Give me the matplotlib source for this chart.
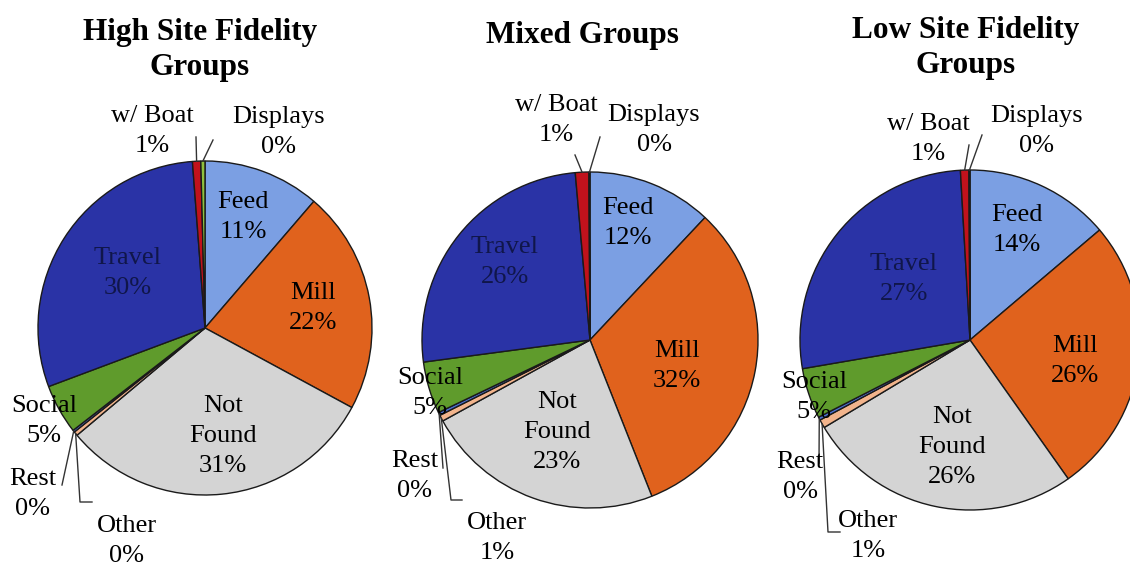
import numpy as np
import matplotlib.pyplot as plt

plt.rcParams['font.family'] = ['Liberation Serif', 'DejaVu Serif']

# activity budgets (%) per group type, clockwise from 12 o'clock
categories = ['Feed', 'Mill', 'Not Found', 'Other', 'Rest', 'Social', 'Travel', 'w/ Boat', 'Displays']
high_fidelity = [11.3, 21.6, 31.0, 0.4, 0.2, 4.8, 29.5, 0.8, 0.4]
mixed = [12.0, 32.0, 23.0, 0.6, 0.3, 5.0, 25.7, 1.3, 0.1]
low_fidelity = [13.8, 26.4, 26.2, 0.8, 0.3, 4.8, 26.8, 0.8, 0.1]
titles = ['High Site Fidelity\nGroups', 'Mixed Groups', 'Low Site Fidelity\nGroups']

colors = ['#7b9fe3', '#e0621d', '#d4d4d4', '#f2b48c', '#4a6fd2',
          '#5f9b2c', '#2a33a6', '#c1121c', '#8fc13e']

W, H = 1130, 565
fig = plt.figure(figsize=(W / 100, H / 100), dpi=100)
ax = fig.add_axes([0, 0, 1, 1])


def P(x, y):
    # image-style coordinates (y down) -> axes coordinates
    return x, H - y


# layout of each pie: centre, radius, title pos, inside label pos, outside label pos, leader ends
layouts = [
    dict(c=(205, 328), r=167, title=(200, 50),
         inside={'Feed': (243, 217), 'Mill': (313, 308), 'Not Found': (223, 436), 'Travel': (128, 273)},
         outside={'w/ Boat': (152, 131), 'Displays': (279, 132), 'Social': (44, 421),
                  'Rest': (33, 494), 'Other': (127, 541)},
         leads={'w/ Boat': [(196, 137)], 'Displays': [(213, 140)], 'Rest': [(62, 485)],
                'Other': [(80, 502), (92, 502)]}),
    dict(c=(590, 340), r=168, title=(582, 35),
         inside={'Feed': (628, 223), 'Mill': (677, 366), 'Not Found': (557, 432), 'Travel': (505, 262)},
         outside={'w/ Boat': (556, 120), 'Displays': (654, 130), 'Social': (430, 393),
                  'Rest': (415, 476), 'Other': (497, 538)},
         leads={'w/ Boat': [(575, 155)], 'Displays': [(600, 137)], 'Rest': [(443, 468)],
                'Other': [(451, 500), (462, 500)]}),
    dict(c=(970, 340), r=170, title=(966, 48),
         inside={'Feed': (1017, 230), 'Mill': (1075, 361), 'Not Found': (952, 447), 'Travel': (904, 279)},
         outside={'w/ Boat': (928, 139), 'Displays': (1037, 131), 'Social': (814, 397),
                  'Rest': (800, 477), 'Other': (868, 536)},
         leads={'w/ Boat': [(969, 145)], 'Displays': [(982, 135)], 'Rest': [(819, 463)],
                'Other': [(828, 532), (840, 532)]}),
]

fs = 19
for vals, title, lay in zip([high_fidelity, mixed, low_fidelity], titles, layouts):
    cx, cy = P(*lay['c'])
    r = lay['r']
    wedges, _ = ax.pie(vals, colors=colors, startangle=90, counterclock=False,
                       center=(cx, cy), radius=r, frame=True,
                       wedgeprops=dict(edgecolor='#1a1a1a', linewidth=1.0))
    pct = {k: v / sum(vals) * 100 for k, v in zip(categories, vals)}
    ax.text(*P(*lay['title']), title, ha='center', va='center', fontsize=22.5,
            fontweight='bold', linespacing=1.3)

    for name, (x, y) in lay['inside'].items():
        lbl = 'Not\nFound' if name == 'Not Found' else name
        tc = '#10164a' if name == 'Travel' else 'black'
        ax.text(*P(x, y), f'{lbl}\n{pct[name]:.0f}%', ha='center', va='center',
                fontsize=fs, color=tc, linespacing=1.45)

    for name, (x, y) in lay['outside'].items():
        ax.text(*P(x, y), f'{name}\n{pct[name]:.0f}%', ha='center', va='center',
                fontsize=fs, linespacing=1.45)

    # leader lines from the slice rim to the outside labels
    for name, pts in lay['leads'].items():
        w = wedges[categories.index(name)]
        mid = np.deg2rad((w.theta1 + w.theta2) / 2)
        rim = (cx + r * np.cos(mid), cy + r * np.sin(mid))
        xs = [rim[0]] + [P(*p)[0] for p in pts]
        ys = [rim[1]] + [P(*p)[1] for p in pts]
        ax.plot(xs, ys, color='#333333', lw=1.0)

ax.set_xlim(0, W)
ax.set_ylim(0, H)
ax.set_aspect('equal')
ax.axis('off')
fig.savefig('out.png', dpi=100, facecolor='white')
